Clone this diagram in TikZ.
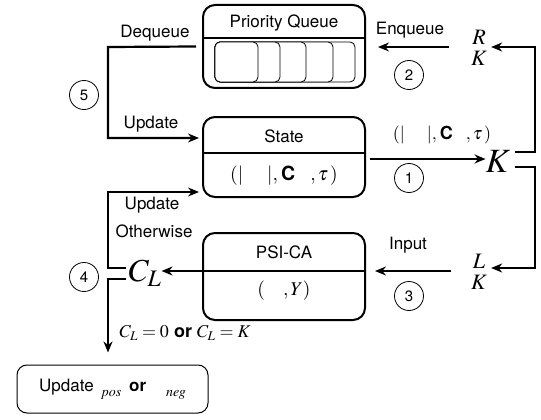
\documentclass[tikz,border=0pt]{standalone}
\usepackage{mathptmx}
\usepackage{fontspec}
\setmainfont{TeX Gyre Heros}
\usetikzlibrary{arrows.meta,positioning,calc}

\begin{document}
\begin{tikzpicture}[x=1pt,y=-1pt,
    box/.style={rectangle, draw, rounded corners=12pt, line width=2pt, minimum width=162pt},
    cell/.style={draw, rounded corners=5pt, line width=0.8pt, fill=white},
    arrow/.style={-{Stealth[length=11pt,width=9pt]}, line width=2.2pt},
    wire/.style={line width=2.2pt},
    lbl/.style={font=\fontsize{17}{20}\selectfont, inner sep=0pt},
    num/.style={circle, draw, line width=0.8pt, minimum size=29pt, inner sep=0pt, font=\fontsize{15}{17}\selectfont}
]
    \useasboundingbox (0,0) rectangle (541,420);

    % Priority queue
    \node[box, minimum height=83pt] (pq) at (284,46.5) {};
    \node[lbl] (pqtitle) at (284,23) {Priority Queue};
    \draw[line width=1.6pt] (pq.west |- 0,38) -- (pq.east |- 0,38);
    \foreach \r in {355,333,306,280,258}
        \draw[cell] (215,42) rectangle (\r,82);

    % State
    \node[box, minimum height=80pt] (state) at (284,157) {};
    \node[lbl] (statetitle) at (284,136) {State};
    \draw[line width=1.6pt] (state.west |- 0,153) -- (state.east |- 0,153);
    \node[lbl, font=\fontsize{19.5}{22}\selectfont] (stateval) at (284,176) {$(|\hspace{24pt}|,$\,\textbf{C}\hspace{15pt}$,\tau\mkern2mu)$};

    % PSI-CA
    \node[box, minimum height=87pt] (psi) at (284,276.5) {};
    \node[lbl] (psititle) at (284,252) {PSI-CA};
    \node[lbl, font=\fontsize{19.5}{22}\selectfont] (psival) at (284,291) {$(\hspace{18pt},Y)$};

    % Right side
    \node[inner sep=0pt, font=\fontsize{34}{34}\selectfont] (kk) at (498,161) {$K$};
    \node[inner sep=0pt, align=center, font=\fontsize{22}{21}\selectfont] (rk) at (479,48) {$R$\\$K$};
    \node[inner sep=0pt, align=center, font=\fontsize{22}{21}\selectfont] (lk) at (479,272) {$L$\\$K$};
    \coordinate (ktop) at (515,152);
    \coordinate (kbot) at (515,167);

    % Left side
    \node[inner sep=0pt, font=\fontsize{32}{32}\selectfont] (cl) at (145,273) {$C_L$};
    \coordinate (cltop) at (126,268);
    \coordinate (clbot) at (126,279);
    \node[draw, rounded corners=10pt, line width=1pt, minimum width=191pt, minimum height=48pt,
        font=\fontsize{17}{20}\selectfont] (upd) at (112.5,389)
        {Update\hspace{7pt}\raisebox{-5pt}{\fontsize{14}{14}\selectfont$pos$}\hspace{8pt}\textbf{or}\hspace{20pt}\raisebox{-5pt}{\fontsize{14}{14}\selectfont$neg$}\hspace{4pt}};

    % Arrows
    \draw[arrow, shorten >=3pt] ([xshift=-6pt]pq.west) -- (108,47) -- (108,138) -- (state.west |- 0,138);
    \draw[arrow, shorten <=22pt, shorten >=12pt] (rk.west |- 0,47) -- (pq.east |- 0,47);
    \draw[arrow, shorten <=4pt] (state.east |- 0,159) -- (kk.west |- 0,159);
    \draw[arrow, shorten >=4pt] (ktop) -- (535,152) -- (535,47) -- (rk.east |- 0,47);
    \draw[arrow, shorten >=4pt] (kbot) -- (535,167) -- (535,268) -- (lk.east |- 0,268);
    \draw[arrow, shorten <=20pt, shorten >=9pt] (lk.west |- 0,271) -- (psi.east |- 0,271);
    \draw[arrow] (psi.east |- 0,271) -- (cl.east |- 0,271);
    \draw[arrow, shorten >=3pt] (cltop) -- (108,268) -- (108,192) -- (state.west |- 0,192);
    \draw[arrow, shorten >=12pt] (clbot) -- (108,279) -- (upd.north -| 108,0);

    % Labels
    \node[lbl] (deq) at (155,33) {Dequeue};
    \node[lbl] (upd1) at (151,124) {Update};
    \node[lbl] (enq) at (410,30) {Enqueue};
    \node[lbl, font=\fontsize{18}{21}\selectfont] (sent) at (442,135) {$(|\hspace{22pt}|,$\,\textbf{C}\hspace{13pt}$,\tau\mkern2mu)$};
    \node[lbl] (inp) at (408,245) {Input};
    \node[lbl] (upd2) at (152,205) {Update};
    \node[lbl] (oth) at (154,231) {Otherwise};
    \node[lbl, font=\fontsize{18}{21}\selectfont] (cond) at (185,333) {$C_L = 0$ \textbf{or} $C_L = K$};

    % Step numbers
    \node[num] (n1) at (409,178) {1};
    \node[num] (n2) at (409,75) {2};
    \node[num] (n3) at (409,296) {3};
    \node[num] (n4) at (84,277) {4};
    \node[num] (n5) at (84,95) {5};
\end{tikzpicture}
\end{document}
